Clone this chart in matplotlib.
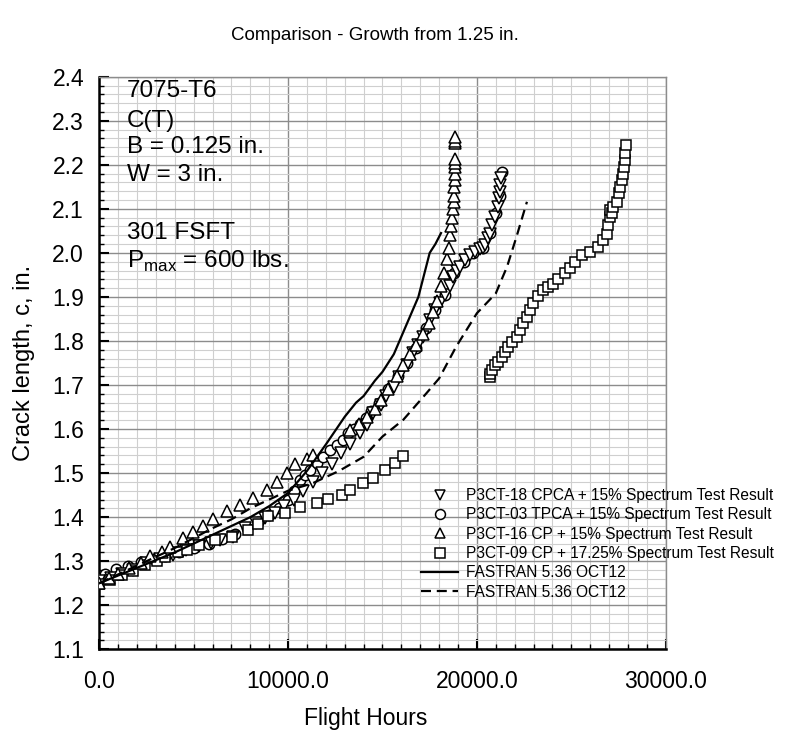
import matplotlib
matplotlib.use("Agg")
import matplotlib.pyplot as plt
from matplotlib.ticker import MultipleLocator, FormatStrFormatter

plt.rcParams["font.family"] = ["Liberation Sans", "DejaVu Sans"]
plt.rcParams["mathtext.fontset"] = "custom"
plt.rcParams["mathtext.rm"] = "Liberation Sans"

# P3CT-18 CPCA + 15% spectrum test
cpca18_hours = [0, 600, 1200, 1800, 2500, 3200, 3900, 4600, 5300, 5900, 6400, 7100, 7700, 8300,
                8800, 9300, 9800, 10300, 10800, 11300, 11800, 12300, 12800, 13300, 13800, 14200,
                14500, 14900, 15200, 15600, 15900, 16300, 16630, 16900, 17160, 17500, 17800, 18050,
                18310, 18575, 18750, 18930, 19100, 19370, 19650, 19900, 20150, 20340, 20430, 20600,
                20700, 20780, 20960, 21100, 21170, 21220, 21240, 21276]
cpca18_crack = [1.255, 1.262, 1.270, 1.280, 1.295, 1.305, 1.315, 1.325, 1.335, 1.342, 1.348, 1.356,
                1.375, 1.386, 1.398, 1.410, 1.425, 1.440, 1.460, 1.480, 1.500, 1.520, 1.545, 1.565,
                1.590, 1.610, 1.636, 1.655, 1.674, 1.695, 1.719, 1.745, 1.772, 1.790, 1.810, 1.848,
                1.870, 1.886, 1.905, 1.925, 1.946, 1.960, 1.969, 1.984, 1.995, 2.003, 2.008, 2.012,
                2.018, 2.033, 2.044, 2.063, 2.082, 2.105, 2.124, 2.139, 2.154, 2.169]

# P3CT-03 TPCA + 15% spectrum test
tpca03_hours = [0, 300, 900, 1500, 2200, 2900, 3500, 4200, 5000, 5800, 6500, 7200, 7800, 8400,
                9000, 9500, 10000, 10300, 10630, 10900, 11160, 11510, 11870, 12220, 12570, 12930,
                13190, 13500, 13800, 14100, 14400, 14800, 15300, 15800, 16300, 16800, 17300, 17800,
                18300, 18800, 19300, 19800, 20300, 20700, 21000, 21200, 21313]
tpca03_crack = [1.262, 1.272, 1.282, 1.290, 1.298, 1.305, 1.312, 1.320, 1.330, 1.340, 1.350, 1.362,
                1.375, 1.390, 1.405, 1.420, 1.440, 1.460, 1.484, 1.496, 1.507, 1.522, 1.537, 1.553,
                1.564, 1.575, 1.590, 1.600, 1.612, 1.625, 1.640, 1.660, 1.690, 1.720, 1.750, 1.785,
                1.830, 1.870, 1.905, 1.955, 1.980, 2.000, 2.012, 2.045, 2.090, 2.130, 2.184]

# P3CT-16 CP + 15% spectrum test
cp16_hours = [0, 500, 1000, 1600, 2200, 2700, 3300, 3750, 4450, 4980, 5510, 6040, 6750, 7450, 8160,
              8866, 9400, 9925, 10370, 10990, 11340, 13300, 13750, 14200,
              14600, 14900, 15300, 15750, 16100, 16450, 16800, 17160, 17450, 17700, 17900, 18100,
              18250, 18400, 18500, 18600, 18650, 18700, 18750, 18780, 18800, 18810, 18820, 18830,
              18840, 18850, 18850, 18855, 18855, 18855]
cp16_crack = [1.250, 1.262, 1.272, 1.285, 1.297, 1.311, 1.322, 1.332, 1.352, 1.366, 1.380, 1.396,
              1.413, 1.428, 1.444, 1.462, 1.480, 1.500, 1.520, 1.533, 1.541, 1.598, 1.612, 1.628,
              1.645, 1.666, 1.690, 1.720, 1.745, 1.770, 1.790, 1.815, 1.840,
              1.865, 1.890, 1.925, 1.955, 1.985, 2.010, 2.040, 2.060, 2.080, 2.100, 2.115, 2.130,
              2.150, 2.165, 2.180, 2.195, 2.205, 2.213, 2.250, 2.255, 2.262]

# P3CT-09 CP + 17.25% spectrum test
cp09_hours = [0, 570, 1200, 1800, 2400, 3040, 3480, 4180, 4630, 5300, 6130, 7010, 7890, 8400, 8950,
              9840, 10630, 11510, 12130, 12840, 13280, 13980, 14510, 15130, 15660, 16100,
              20690, 20700, 20780, 20960, 21135, 21313, 21490, 21665, 21843, 22108, 22283, 22457,
              22638, 22813, 22987, 23252, 23517, 23782, 24050, 24300, 24672, 24931, 25196, 25551,
              25990, 26430, 26695, 26870, 26960, 27050, 27050, 27150, 27225, 27436, 27543, 27580,
              27670, 27754, 27790, 27845, 27845, 27900]
cp09_crack = [1.248, 1.258, 1.268, 1.278, 1.291, 1.300, 1.310, 1.322, 1.326, 1.337, 1.349, 1.356,
              1.371, 1.385, 1.402, 1.410, 1.424, 1.432, 1.441, 1.450, 1.461, 1.478, 1.490, 1.507,
              1.522, 1.538,
              1.718, 1.725, 1.734, 1.746, 1.753, 1.764, 1.776, 1.787, 1.798, 1.810, 1.825, 1.840,
              1.855, 1.870, 1.886, 1.901, 1.916, 1.923, 1.930, 1.940, 1.954, 1.965, 1.980, 1.995,
              2.003, 2.014, 2.029, 2.044, 2.063, 2.082, 2.097, 2.090, 2.105, 2.116, 2.135, 2.150,
              2.166, 2.180, 2.196, 2.211, 2.226, 2.245]

# FASTRAN 5.36 predictions
fastran_a_hours = [0, 2000, 4000, 6000, 8000, 9000, 10000, 11000, 12000, 13000, 13600, 14000, 14600,
                   15000, 15600, 16000, 16900, 17500, 17800, 18100]
fastran_a_crack = [1.250, 1.285, 1.320, 1.360, 1.400, 1.425, 1.455, 1.505, 1.565, 1.628, 1.660,
                   1.675, 1.710, 1.730, 1.770, 1.810, 1.900, 2.000, 2.020, 2.045]
fastran_b_hours = [0, 2000, 4000, 6000, 7000, 8000, 9000, 10000, 11300, 12700, 14000, 15000, 16100,
                   17300, 18000, 18900, 20000, 21000, 21600, 22100, 22650]
fastran_b_crack = [1.250, 1.290, 1.330, 1.375, 1.395, 1.420, 1.440, 1.460, 1.477, 1.505, 1.537,
                   1.583, 1.621, 1.680, 1.715, 1.787, 1.863, 1.908, 1.969, 2.037, 2.116]

legend_labels = ["P3CT-18 CPCA + 15% Spectrum Test Result",
                 "P3CT-03 TPCA + 15% Spectrum Test Result",
                 "P3CT-16 CP + 15% Spectrum Test Result",
                 "P3CT-09 CP + 17.25% Spectrum Test Result",
                 "FASTRAN 5.36 OCT12",
                 "FASTRAN 5.36 OCT12"]

fig = plt.figure(figsize=(7.88, 7.34), dpi=100)
ax = fig.add_axes([0.126, 0.1154, 0.7188, 0.7801])

mk = dict(linestyle="none", markerfacecolor="white", markeredgecolor="black", markeredgewidth=1.1)
h1, = ax.plot(cpca18_hours, cpca18_crack, marker="v", markersize=8, zorder=4, label=legend_labels[0], **mk)
h2, = ax.plot(tpca03_hours, tpca03_crack, marker="o", markersize=7.5, zorder=3, label=legend_labels[1], **mk)
h3, = ax.plot(cp16_hours, cp16_crack, marker="^", markersize=8, zorder=5, label=legend_labels[2], **mk)
h4, = ax.plot(cp09_hours, cp09_crack, marker="s", markersize=7.5, zorder=4, label=legend_labels[3], **mk)
h5, = ax.plot(fastran_a_hours, fastran_a_crack, color="black", lw=1.6, zorder=6, label=legend_labels[4])
h6, = ax.plot(fastran_b_hours, fastran_b_crack, color="black", lw=1.6, dashes=(4.5, 2.6), zorder=6,
              label=legend_labels[5])

ax.set_xlim(0, 30000)
ax.set_ylim(1.1, 2.4)

ax.xaxis.set_major_locator(MultipleLocator(10000))
ax.xaxis.set_minor_locator(MultipleLocator(1000))
ax.yaxis.set_major_locator(MultipleLocator(0.1))
ax.yaxis.set_minor_locator(MultipleLocator(0.02))
ax.xaxis.set_major_formatter(FormatStrFormatter("%.1f"))
ax.yaxis.set_major_formatter(FormatStrFormatter("%.1f"))

ax.grid(which="major", color="#8c8c8c", lw=1.0)
ax.grid(which="minor", color="#cfcfcf", lw=0.8)
ax.set_axisbelow(True)

for side in ("left", "bottom"):
    ax.spines[side].set_color("black")
    ax.spines[side].set_linewidth(1.8)
for side in ("top", "right"):
    ax.spines[side].set_color("#8c8c8c")
    ax.spines[side].set_linewidth(1.0)

ax.tick_params(which="both", direction="in", top=False, right=False, color="black")
ax.tick_params(which="major", length=7, width=1.5, labelsize=16.5)
ax.tick_params(which="minor", length=3.5, width=1.0)
ax.tick_params(axis="x", which="major", pad=15)
ax.tick_params(axis="y", which="major", pad=11)

ax.set_xlabel("Flight Hours", fontsize=16.5)
ax.set_ylabel("Crack length, c, in.", fontsize=17)
ax.xaxis.set_label_coords(0.47, -0.1)
ax.yaxis.set_label_coords(-0.114, 0.5)

fig.text(0.476, 1 - 35 / 734, "Comparison - Growth from 1.25 in.", ha="center", va="center", fontsize=13.5)

# specimen / test notes
notes = [("7075-T6", 91), ("C(T)", 121), ("B = 0.125 in.", 147), ("W = 3 in.", 175),
         ("301 FSFT", 233), (r"P$_{\mathregular{max}}$ = 600 lbs.", 261)]
for text, ypix in notes:
    fig.text(126.7 / 788, 1 - ypix / 734, text, ha="left", va="center", fontsize=17.5)

leg = ax.legend(handles=[h1, h2, h3, h4, h5, h6], loc="upper left",
                bbox_to_anchor=(421 / 788, 1 - 488 / 734), bbox_transform=fig.transFigure,
                frameon=False, fontsize=11.2, borderpad=0, borderaxespad=0,
                handlelength=2.4, handletextpad=0.5, labelspacing=0.28, markerscale=0.95)
leg.set_zorder(10)

fig.savefig("out.png", dpi=100)
